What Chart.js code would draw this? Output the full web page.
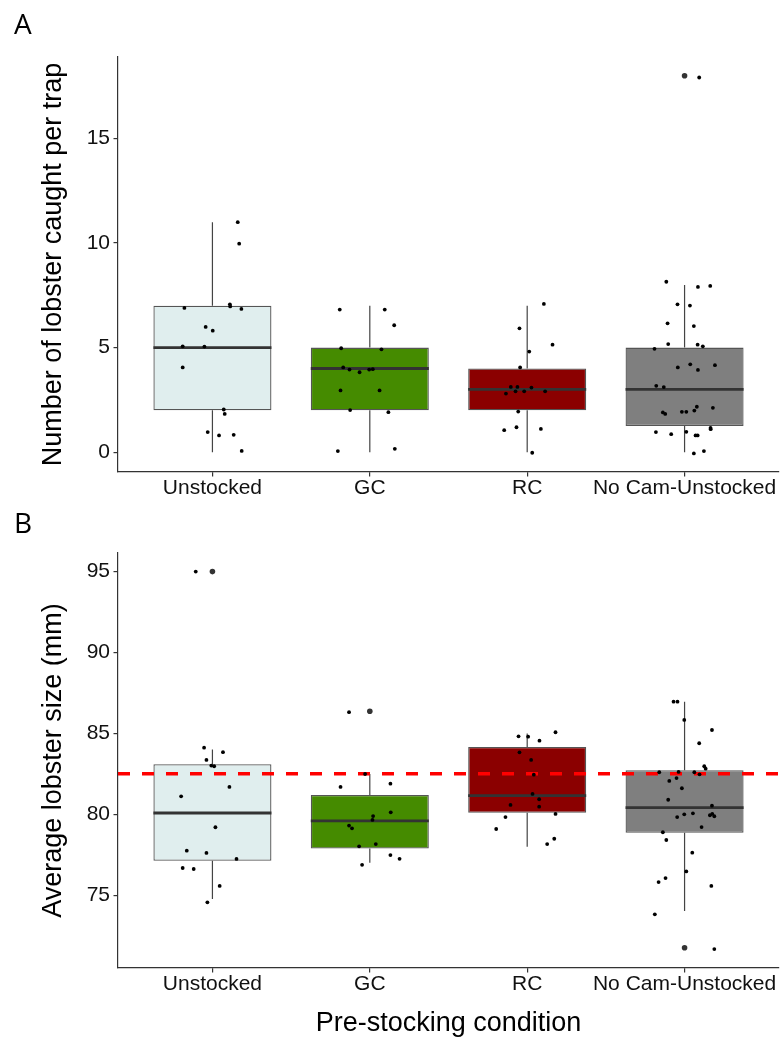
<!DOCTYPE html>
<html>
<head>
<meta charset="utf-8">
<script src="https://cdn.jsdelivr.net/npm/chart.js@4.4.1/dist/chart.umd.min.js"></script>
<style>
  body{margin:0;background:#fff;}
  #wrap{position:relative;width:783px;height:1040px;}
  canvas{position:absolute;left:0;}
  .tag{position:absolute;font-family:'Open Sans',sans-serif;font-size:28px;line-height:28px;color:#000;}
</style>
</head>
<body>
<div id="wrap">
  <canvas id="panel_a" width="783" height="500" style="top:0px"></canvas>
  <canvas id="panel_b" width="783" height="540" style="top:500px"></canvas>
  <div class="tag" style="left:14px;top:9px">A</div>
  <div class="tag" style="left:14px;top:508px">B</div>
</div>
<script>
// categorias y datos
const categories = ['Unstocked', 'GC', 'RC', 'No Cam-Unstocked']

// panel A: numero de langostas por trampa
const catch_q1 = [2, 2, 2, 1.25]
const catch_median = [5, 4, 3, 3]
const catch_q3 = [7, 5, 4, 5]
const catch_low = [0, 0, 0, 0]
const catch_high = [11, 7, 7, 8]
const catch_out_group = [4]
const catch_out_value = [18.0]
const catch_ticks = [0, 5, 10, 15]
// puntos con jitter (x en unidades de categoria)
const catch_pts_x = [
  1.161, 1.170, 0.822, 1.111, 1.113, 1.184, 0.957, 1.002, 0.811, 0.949, 0.811, 1.072, 1.078, 0.970, 1.042, 1.135, 1.186,
  1.809, 2.095, 2.155, 1.818, 2.074, 1.831, 1.871, 1.935, 1.996, 2.019, 1.814, 2.062, 1.875, 2.118, 1.797, 2.159,
  3.106, 2.951, 3.161, 3.013, 2.955, 2.896, 2.938, 3.027, 2.865, 2.926, 2.981, 3.114, 2.943, 2.854, 2.932, 3.087, 3.032,
  3.884, 4.085, 4.163, 3.955, 4.034, 3.892, 4.059, 3.896, 4.083, 4.116, 3.809, 3.957, 4.036, 4.085, 4.193, 3.820, 3.868,
  3.862, 3.877, 3.983, 4.011, 4.062, 4.078, 4.180, 3.818, 3.915, 4.011, 4.070, 4.083, 4.165, 4.166, 4.059, 4.123, 4.093
]
const catch_pts_y = [
  11.0, 9.97, 6.90, 7.07, 6.97, 6.85, 5.99, 5.81, 5.06, 5.05, 4.05, 2.04, 1.83, 0.96, 0.80, 0.83, 0.06,
  6.82, 6.82, 6.07, 4.97, 4.92, 4.05, 3.95, 3.82, 3.95, 3.97, 2.95, 2.95, 2.01, 1.91, 0.05, 0.16,
  7.09, 5.92, 5.14, 4.81, 4.05, 3.12, 3.12, 3.09, 2.80, 2.91, 2.91, 2.91, 1.94, 1.05, 1.19, 1.11, -0.03,
  8.15, 7.90, 7.95, 7.07, 7.01, 6.16, 6.03, 5.17, 5.14, 5.06, 4.94, 4.05, 4.20, 3.93, 4.16, 3.17, 3.11,
  1.90, 1.83, 1.93, 1.93, 1.99, 2.17, 2.12, 0.96, 0.86, 0.97, 0.80, 0.80, 1.16, 1.10, -0.06, 0.05, 17.92
]

// panel B: talla media de langosta
const size_q1 = [77.13, 77.89, 80.10, 78.86]
const size_median = [80.08, 79.59, 81.15, 80.41]
const size_q3 = [83.09, 81.19, 84.16, 82.72]
const size_low = [74.76, 77.01, 78.0, 74.02]
const size_high = [84.0, 82.49, 85.0, 86.96]
const size_out_group = [1, 2, 4]
const size_out_value = [95.0, 86.37, 71.75]
const size_ticks = [75, 80, 85, 90, 95]
const size_ref = 82.5
const size_pts_x = [
  0.894, 0.947, 1.067, 0.962, 0.993, 1.011, 1.108, 0.801, 1.019, 0.837, 0.962, 1.153, 0.811, 0.881, 1.046, 0.968,
  1.868, 1.970, 1.814, 2.131, 2.021, 2.017, 2.133, 1.868, 1.887, 1.932, 2.038, 1.951, 2.131, 2.189,
  2.945, 3.006, 3.078, 3.180, 2.951, 3.025, 3.042, 3.034, 2.894, 3.076, 3.076, 2.862, 3.180, 2.803, 3.172, 3.127,
  3.930, 3.955, 3.998, 4.174, 4.093, 4.125, 4.134, 3.839, 3.962, 4.062, 4.095, 3.903, 3.949, 3.983, 3.896, 4.174,
  3.953, 3.998, 4.053, 4.161, 4.176, 4.189, 4.108, 3.862, 3.884, 4.049, 4.011, 3.835, 3.879, 4.170, 3.811, 4.189
]
const size_pts_y = [
  95.0, 84.12, 83.84, 83.36, 83.01, 82.97, 81.69, 81.11, 79.20, 77.75, 77.61, 77.24, 76.68, 76.62, 75.57, 74.56,
  86.31, 82.49, 81.69, 81.89, 79.89, 79.65, 80.12, 79.30, 79.13, 78.02, 78.16, 76.88, 77.48, 77.25,
  84.82, 84.80, 84.55, 85.07, 83.83, 83.36, 82.45, 81.26, 80.58, 80.93, 80.47, 79.83, 80.02, 79.09, 78.49, 78.16,
  86.96, 86.96, 85.83, 85.21, 84.39, 82.97, 82.82, 82.60, 82.62, 82.60, 82.47, 82.06, 82.24, 81.61, 80.90, 80.53,
  79.83, 80.00, 80.06, 79.94, 80.02, 79.88, 79.21, 78.89, 78.41, 77.63, 76.47, 75.81, 76.06, 75.57, 73.82, 71.67
]

const fill_colors = ['#E0EEEE', '#458B00', '#8B0000', '#7F7F7F']
const box_width = 0.75
const font_family = "'Liberation Sans', Arial, sans-serif"
const axis_color = '#333'

function build_panel(canvas_id, p){
  const box_data = categories.map((c, i) => ({x: i + 1, y: [p.q1[i], p.q3[i]]}))
  const whisker_data = []
  const median_data = []
  categories.forEach((c, i) => {
    const g = i + 1
    whisker_data.push({x: g, y: p.low[i]}, {x: g, y: p.q1[i]}, {x: g, y: null},
                      {x: g, y: p.q3[i]}, {x: g, y: p.high[i]}, {x: g, y: null})
    median_data.push({x: g - box_width / 2, y: p.med[i]}, {x: g + box_width / 2, y: p.med[i]},
                     {x: g + box_width / 2, y: null})
  })
  const pts = p.pts_x.map((x, i) => ({x: x, y: p.pts_y[i]}))
  const outs = p.out_group.map((g, i) => ({x: g, y: p.out_value[i]}))

  const datasets = [
    {type: 'scatter', data: pts, order: 0, pointRadius: 1.9, backgroundColor: '#000',
     borderWidth: 0, pointHoverRadius: 0},
    {type: 'scatter', data: outs, order: 1, pointRadius: 2.8, backgroundColor: '#333',
     borderWidth: 0, pointHoverRadius: 0},
    {type: 'line', data: median_data, order: 3, borderColor: '#333', borderWidth: 2.8,
     pointRadius: 0, spanGaps: false, fill: false},
    {type: 'bar', data: box_data, order: 4, backgroundColor: fill_colors, borderColor: '#555',
     borderWidth: 1.3, borderSkipped: false, categoryPercentage: 1, barPercentage: box_width},
    {type: 'line', data: whisker_data, order: 5, borderColor: '#444', borderWidth: 1.2,
     pointRadius: 0, spanGaps: false, fill: false}
  ]
  if (p.ref !== undefined){
    datasets.push({type: 'line', order: 2, data: [{x: 0.4, y: p.ref}, {x: 4.6, y: p.ref}],
      borderColor: '#FF0000', borderWidth: 3.5, borderDash: [12, 12], pointRadius: 0, fill: false})
  }

  const tick_font = {family: font_family, size: 21, lineHeight: 1.1}
  const title_font = {family: font_family, size: 27}

  new Chart(document.getElementById(canvas_id).getContext('2d'), {
    type: 'scatter',
    data: {datasets: datasets},
    options: {
      responsive: false,
      animation: false,
      devicePixelRatio: 1,
      events: [],
      layout: {padding: {top: p.pad_top, right: 4, bottom: 0, left: 0}},
      plugins: {legend: {display: false}, tooltip: {enabled: false}},
      scales: {
        x: {
          type: 'linear', min: 0.4, max: 4.6, offset: false,
          afterBuildTicks: s => { s.ticks = categories.map((c, i) => ({value: i + 1})) },
          afterFit: s => { s.height = p.x_height; s.paddingLeft = 0; s.paddingRight = 0 },
          ticks: {callback: v => categories[v - 1], font: tick_font, color: '#111',
                  padding: 0, autoSkip: false, maxRotation: 0, minRotation: 0},
          grid: {offset: false, drawOnChartArea: false, drawTicks: true, tickLength: 4.5,
                 color: axis_color, lineWidth: 1.2},
          border: {display: true, color: axis_color, width: 1.2},
          title: {display: !!p.x_title, text: p.x_title || '', font: title_font, color: '#000',
                  padding: {top: 0, bottom: 0}}
        },
        y: {
          type: 'linear', min: p.y_min, max: p.y_max, offset: false, beginAtZero: false,
          afterBuildTicks: s => { s.ticks = p.ticks.map(v => ({value: v})) },
          afterFit: s => { s.width = 118; s.paddingTop = 0; s.paddingBottom = 0 },
          ticks: {callback: v => String(v), font: tick_font, color: '#111', padding: 3.5},
          grid: {offset: false, drawOnChartArea: false, drawTicks: true, tickLength: 4.5,
                 color: axis_color, lineWidth: 1.2},
          border: {display: true, color: axis_color, width: 1.2},
          title: {display: true, text: p.y_title, font: title_font, color: '#000',
                  padding: {top: 37, bottom: 0}}
        }
      }
    }
  })
}

window.addEventListener('load', () => {
  build_panel('panel_a', {
    q1: catch_q1, med: catch_median, q3: catch_q3, low: catch_low, high: catch_high,
    out_group: catch_out_group, out_value: catch_out_value, pts_x: catch_pts_x, pts_y: catch_pts_y,
    ticks: catch_ticks, y_min: -0.95, y_max: 18.9, pad_top: 57, x_height: 28,
    y_title: 'Number of lobster caught per trap'
  })
  build_panel('panel_b', {
    q1: size_q1, med: size_median, q3: size_q3, low: size_low, high: size_high,
    out_group: size_out_group, out_value: size_out_value, pts_x: size_pts_x, pts_y: size_pts_y,
    ticks: size_ticks, y_min: 70.5, y_max: 96.15, pad_top: 53, x_height: 72, ref: size_ref,
    y_title: 'Average lobster size (mm)', x_title: 'Pre-stocking condition'
  })
})
</script>
</body>
</html>
